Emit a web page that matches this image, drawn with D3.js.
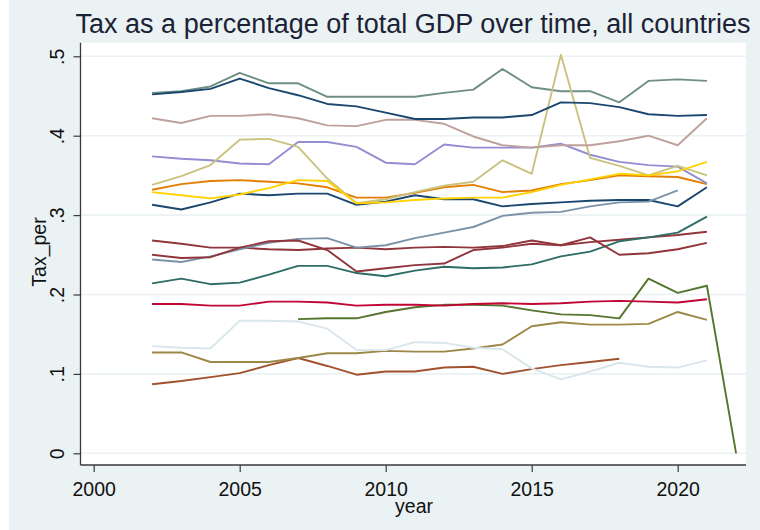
<!DOCTYPE html>
<html><head><meta charset="utf-8">
<script src="https://cdn.jsdelivr.net/npm/d3@7"></script>
<style>html,body{margin:0;padding:0;background:#fff;}svg{display:block;font-family:"Liberation Sans",Arial,sans-serif;}</style>
</head><body>
<svg id="chart" width="760" height="530"></svg>
<script>
// ---- data ----
const years = [2002,2003,2004,2005,2006,2007,2008,2009,2010,2011,2012,2013,2014,2015,2016,2017,2018,2019,2020,2021,2022];
const xTicks = [2000,2005,2010,2015,2020];
const yTicks = [0,0.1,0.2,0.3,0.4,0.5];
const yTickLabels = ["0",".1",".2",".3",".4",".5"];
const seriesNames = ["p1","p2","p3","p4","p5","p6","p7","p8","p9","p10","p11","p12","p13","p14","p15","p16","p17"];
const seriesColors = ["#1a476f","#90353b","#55752f","#e37e00","#6e8e84","#c10534","#938dd2","#cac27e","#a0522d","#7b92a8","#2d6d66","#9c8847","#bfa19c","#ffd200","#d9e6eb","#1a476f","#90353b"];
const p1  = [0.313,0.307,0.316,0.327,0.325,0.327,0.327,0.313,0.317,0.325,0.320,0.320,0.311,0.314,0.316,0.318,0.319,0.319,0.311,0.335,null];
const p2  = [0.268,0.264,0.259,0.259,0.257,0.256,0.258,0.259,0.257,0.259,0.260,0.259,0.261,0.268,0.262,0.266,0.269,0.272,0.275,0.279,null];
const p3  = [null,null,null,null,null,0.169,0.170,0.170,0.178,0.184,0.187,0.187,0.186,0.180,0.175,0.174,0.170,0.220,0.202,0.211,0];
const p4  = [0.332,0.339,0.343,0.344,0.342,0.340,0.335,0.322,0.322,0.328,0.335,0.338,0.329,0.331,0.339,0.344,0.350,0.349,0.348,0.339,null];
const p5  = [0.454,0.456,0.462,0.479,0.466,0.466,0.449,0.449,0.449,0.449,0.454,0.458,0.484,0.461,0.456,0.456,0.442,0.469,0.471,0.469,null];
const p6  = [0.188,0.188,0.186,0.186,0.191,0.191,0.190,0.186,0.187,0.187,0.186,0.188,0.189,0.188,0.189,0.191,0.192,0.191,0.190,0.194,null];
const p7  = [0.374,0.371,0.369,0.365,0.364,0.392,0.392,0.386,0.366,0.364,0.389,0.385,0.385,0.385,0.390,0.376,0.367,0.363,0.361,0.340,null];
const p8  = [0.338,0.349,0.363,0.395,0.396,0.386,0.346,0.315,0.320,0.329,0.337,0.342,0.369,0.352,0.502,0.372,0.362,0.350,0.362,0.350,null];
const p9  = [0.087,0.091,0.096,0.101,0.111,0.120,0.110,0.099,0.103,0.103,0.108,0.109,0.100,0.106,0.111,0.115,0.119,null,null,null,null];
const p10 = [0.244,0.241,0.248,0.257,0.265,0.270,0.271,0.259,0.262,0.271,0.278,0.285,0.299,0.303,0.304,0.311,0.316,0.317,0.331,null,null];
const p11 = [0.214,0.220,0.213,0.215,0.225,0.236,0.236,0.227,0.223,0.230,0.235,0.233,0.234,0.238,0.248,0.254,0.267,0.272,0.278,0.298,null];
const p12 = [0.127,0.127,0.115,0.115,0.115,0.120,0.126,0.126,0.129,0.128,0.128,0.132,0.137,0.160,0.165,0.162,0.162,0.163,0.178,0.168,null];
const p13 = [0.422,0.416,0.425,0.425,0.427,0.422,0.413,0.412,0.420,0.420,0.415,0.399,0.388,0.385,0.388,0.388,0.393,0.400,0.388,0.422,null];
const p14 = [0.329,0.325,0.321,0.326,0.334,0.344,0.343,0.315,0.316,0.319,0.321,0.322,0.322,0.329,0.338,0.345,0.352,0.350,0.355,0.367,null];
const p15 = [0.135,0.133,0.132,0.167,0.167,0.166,0.157,0.130,0.130,0.140,0.139,0.133,0.131,0.107,0.093,0.103,0.114,0.109,0.108,0.117,null];
const p16 = [0.452,0.455,0.459,0.472,0.460,0.451,0.440,0.437,0.429,0.421,0.421,0.423,0.423,0.426,0.442,0.441,0.436,0.427,0.425,0.426,null];
const p17 = [0.250,0.246,0.247,0.259,0.267,0.268,0.256,0.229,0.233,0.237,0.239,0.256,0.259,0.264,0.262,0.272,0.250,0.252,0.257,0.265,null];
const seriesValues = [p1,p2,p3,p4,p5,p6,p7,p8,p9,p10,p11,p12,p13,p14,p15,p16,p17];

// ---- layout ----
const svg = d3.select("#chart");
const W = 760, H = 530;
const plot = {left: 80.5, right: 746, top: 42.7, bottom: 465};
const x = d3.scaleLinear().domain([2000, 2020]).range([93.7, 677.7]);
const y = d3.scaleLinear().domain([0, 0.5]).range([453.3, 56.3]);

svg.append("rect").attr("x",0).attr("y",0).attr("width",W).attr("height",H).attr("fill","#ffffff");
svg.append("rect").attr("x",9).attr("y",0).attr("width",W-9).attr("height",H).attr("fill","#eaf2f3");
svg.append("rect").attr("x",plot.left).attr("y",plot.top).attr("width",plot.right-plot.left).attr("height",plot.bottom-plot.top).attr("fill","#ffffff");

// gridlines
svg.append("g").selectAll("line").data(yTicks).join("line")
  .attr("x1",plot.left).attr("x2",plot.right)
  .attr("y1",d=>y(d)).attr("y2",d=>y(d))
  .attr("stroke","#eaf2f3").attr("stroke-width",1.6);

// lines
const line = d3.line().defined(d=>d.v!==null).x(d=>x(d.yr)).y(d=>y(d.v));
const gl = svg.append("g").attr("fill","none").attr("stroke-linejoin","round");
seriesValues.forEach((vals,i)=>{
  const pts = years.map((yr,j)=>({yr, v: vals[j]}));
  gl.append("path").datum(pts).attr("d",line)
    .attr("stroke",seriesColors[i]).attr("stroke-width",1.9)
    .attr("data-name",seriesNames[i]);
});

// axes
const xAxis = d3.axisBottom(x).tickValues(xTicks).tickFormat(d3.format("d")).tickSize(7).tickSizeOuter(0).tickPadding(10);
const gx = svg.append("g").attr("transform",`translate(0,${plot.bottom})`).call(xAxis);
gx.select(".domain").attr("d",`M${plot.left},0H${plot.right}`).attr("stroke","#3a3a3a").attr("stroke-width",1.3);
gx.selectAll(".tick line").attr("stroke","#3a3a3a").attr("stroke-width",1.2);
gx.selectAll(".tick text").attr("font-size","19.5px").attr("fill","#111").attr("font-family","Liberation Sans, Arial, sans-serif").attr("dy",null).attr("y",31);

const yAxis = d3.axisLeft(y).tickValues(yTicks).tickFormat((d,i)=>yTickLabels[i]).tickSize(7).tickSizeOuter(0);
const gy = svg.append("g").attr("transform",`translate(${plot.left},0)`).call(yAxis);
gy.select(".domain").attr("d",`M0,${plot.top}V${plot.bottom}`).attr("stroke","#3a3a3a").attr("stroke-width",1.3);
gy.selectAll(".tick line").attr("stroke","#3a3a3a").attr("stroke-width",1.2);
gy.selectAll(".tick text").attr("font-size","19.5px").attr("fill","#111").attr("font-family","Liberation Sans, Arial, sans-serif")
  .attr("x",null).attr("dy",null).attr("text-anchor","middle")
  .attr("transform","translate(-16.5,0) rotate(-90)");

// labels
svg.append("text").attr("x",413).attr("y",33).attr("text-anchor","middle")
  .attr("font-size","27px").attr("fill","#1c2236").text("Tax as a percentage of total GDP over time, all countries");
svg.append("text").attr("x",414).attr("y",513).attr("text-anchor","middle")
  .attr("font-size","19.5px").attr("fill","#111").text("year");
svg.append("text").attr("transform","translate(46,252) rotate(-90)").attr("text-anchor","middle")
  .attr("font-size","19.5px").attr("fill","#111").text("Tax_per");
</script>
</body></html>
